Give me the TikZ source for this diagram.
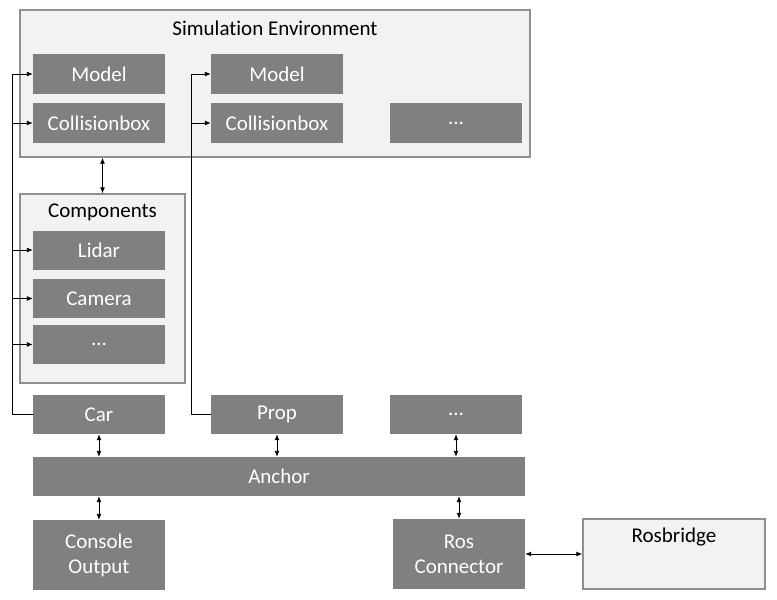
\documentclass[tikz,border=0pt]{standalone}
\usepackage{fontspec}
\setmainfont{Carlito}[Ligatures=NoCommon]
\usetikzlibrary{arrows.meta}
\definecolor{boxgray}{HTML}{808080}
\definecolor{envgray}{HTML}{F2F2F2}
\definecolor{framegray}{HTML}{8F8F8F}
\begin{document}
\begin{tikzpicture}[x=1pt,y=-1pt,
	block/.style={fill=boxgray,text=white,minimum width=132pt,minimum height=40pt,inner sep=0pt,font=\fontsize{21}{25}\selectfont,align=center},
	group/.style={fill=envgray,draw=framegray,line width=1.4pt,minimum width=#1,inner sep=0pt},
	title/.style={font=\fontsize{21}{25}\selectfont,text=black},
	link/.style={{Latex[length=6pt,width=5pt]}-{Latex[length=6pt,width=5pt]},line width=0.9pt},
	feed/.style={-{Latex[length=6pt,width=5pt]},line width=0.9pt}]
	\useasboundingbox (0,0) rectangle (777,600);
	% containers
	\node[group=510pt,minimum height=147pt] (simenv) at (275,83.5) {};
	\node[title] (simtitle) at (275,28) {Simulation Environment};
	\node[group=165pt,minimum height=189pt] (comps) at (102.5,288.5) {};
	\node[title] (comptitle) at (102.5,212) {Components};
	% simulation objects
	\node[block] (model1) at (99,74) {Model};
	\node[block] (coll1) at (99,123) {Collisionbox};
	\node[block] (model2) at (277,74) {Model};
	\node[block] (coll2) at (277,123) {Collisionbox};
	\node[block] (moreenv) at (456,123) {...};
	\node[block,minimum height=39pt] (lidar) at (99,250) {Lidar};
	\node[block,minimum height=39pt] (camera) at (99,298.5) {Camera};
	\node[block,minimum height=39pt] (morecomp) at (99,344.5) {...};
	\node[block,minimum height=39pt] (car) at (99,414.5) {Car};
	\node[block,minimum height=39pt] (prop) at (277,414.5) {Prop};
	\node[block,minimum height=39pt] (moreobj) at (456,414.5) {...};
	\node[block,minimum width=492pt,minimum height=39pt] (anchor) at (279,476.5) {Anchor};
	\node[block,minimum height=70pt] (console) at (99,555) {Console\\Output};
	\node[block,minimum height=70pt] (ros) at (459,554) {Ros\\Connector};
	\node[group=182pt,minimum height=70pt] (rosbridge) at (674,554) {};
	\path (rosbridge.north) ++(0,19) node[title] (bridgetitle) {Rosbridge};
	% links
	\draw[link] (comps.north) -- (comps.north |- simenv.south);
	\draw[link] (car.south) -- (car.south |- anchor.north);
	\draw[link] (prop.south) -- (prop.south |- anchor.north);
	\draw[link] (moreobj.south) -- (moreobj.south |- anchor.north);
	\draw[link] (console.north) -- (console.north |- anchor.south);
	\draw[link] (ros.north) -- (ros.north |- anchor.south);
	\draw[link] (ros.east) -- (rosbridge.west);
	% feeds
	\coordinate (busA) at (12,0);
	\coordinate (busB) at (191,0);
	\draw[line width=0.9pt] (car.west) -- (car.west -| busA) -- (model1.west -| busA);
	\draw[line width=0.9pt] (prop.west) -- (prop.west -| busB) -- (model2.west -| busB);
	\foreach \n in {model1,coll1,lidar,camera,morecomp}
		\draw[feed] (\n.west -| busA) -- (\n.west);
	\foreach \n in {model2,coll2}
		\draw[feed] (\n.west -| busB) -- (\n.west);
\end{tikzpicture}
\end{document}
